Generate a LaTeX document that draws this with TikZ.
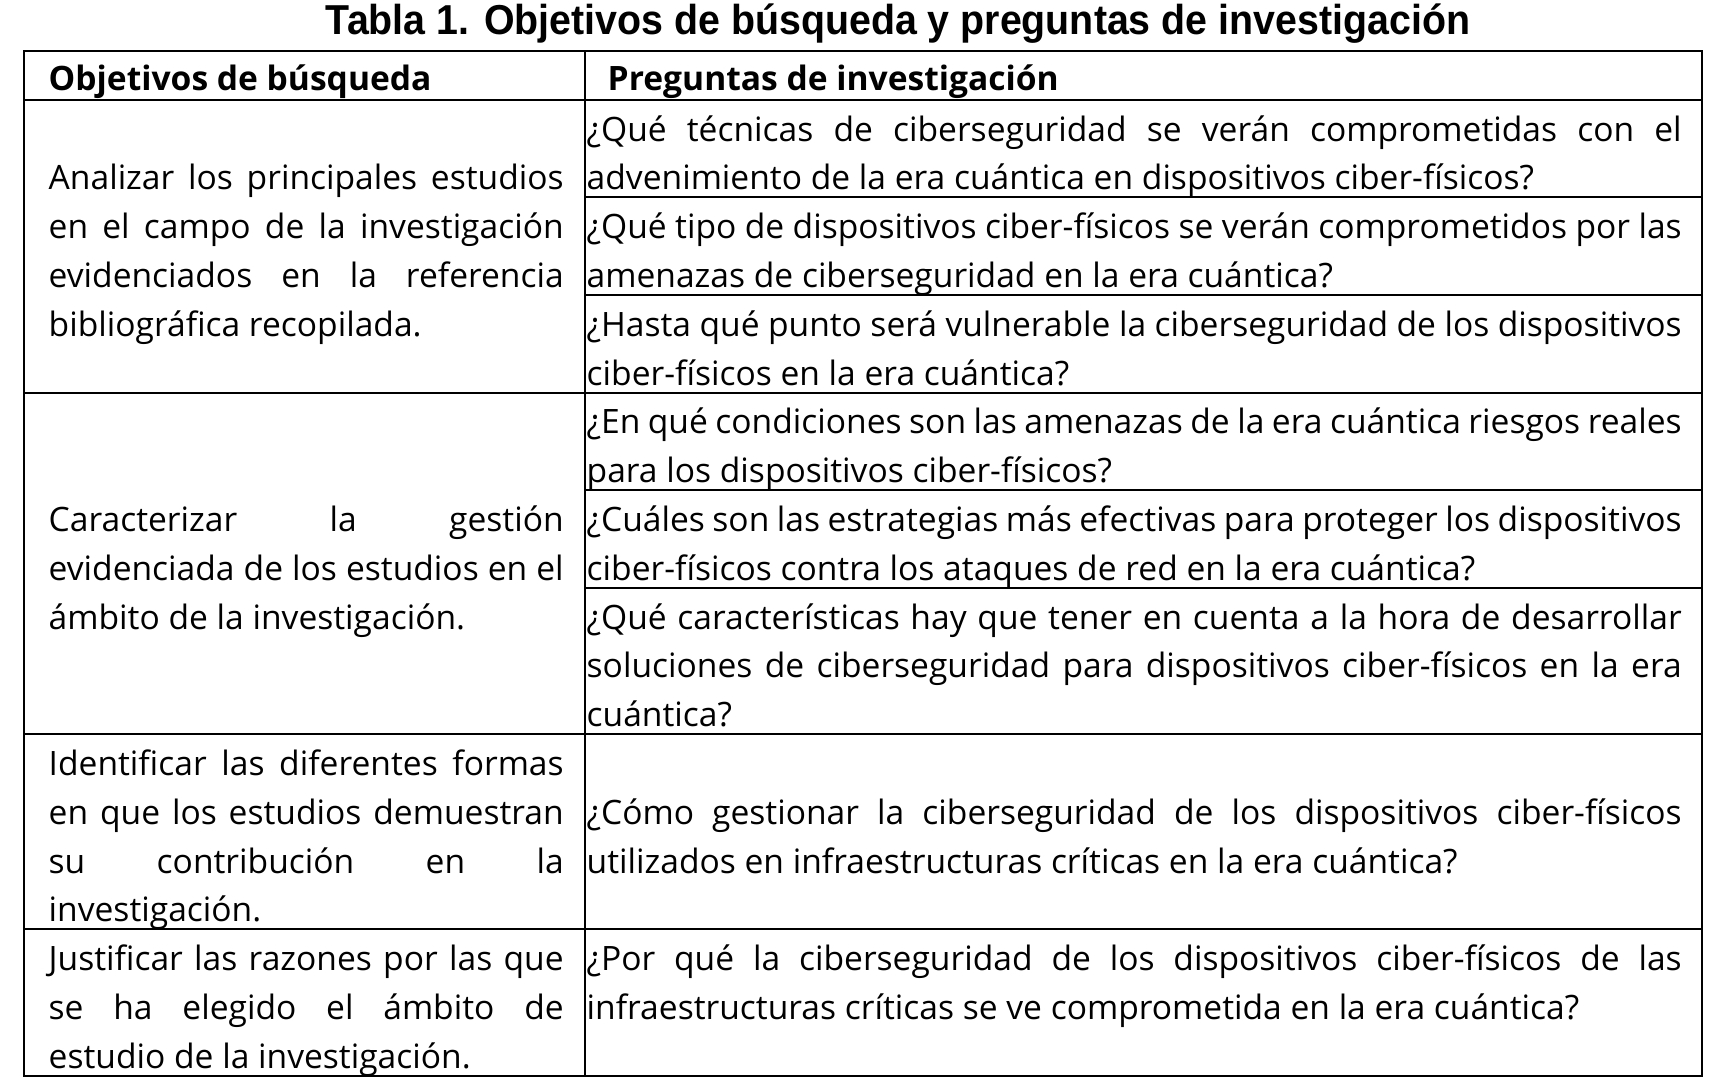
\documentclass[tikz,border=0pt]{standalone}
\usepackage{fontspec}
\usepackage{graphicx}
\setmainfont{Open Sans}
\newfontfamily\titlef{Liberation Sans}
\newlength\px
\setlength\px{0.01cm}
\newcommand\bodyf{\fontsize{9.55pt}{11pt}\selectfont}
\newcommand\headf{\fontsize{9.55pt}{11pt}\selectfont\bfseries}
\newcommand\JL[1]{\makebox[515\px][s]{#1}}
\newcommand\JR[1]{\makebox[1095\px][s]{#1}}
\begin{document}
\begin{tikzpicture}[x=0.01cm,y=-0.01cm,
  ln/.style={anchor=mid west,inner sep=0pt,font=\bodyf,yshift=-0.035cm},
  hd/.style={anchor=mid west,inner sep=0pt,font=\headf,yshift=-0.02cm},
  rule/.style={line width=0.6pt,draw=black}]
\useasboundingbox (0,0) rectangle (1724,1092);
\fill[white] (0,0) rectangle (1724,1092);
% title
\node[inner sep=0pt] (title) at (898,24)
  {\resizebox{1144\px}{\height}{\fontsize{11.9pt}{14pt}\titlef\bfseries Tabla 1. Objetivos de búsqueda y preguntas de investigación}};
% grid
\coordinate (tl) at (24,51);
\coordinate (br) at (1702,1076);
\draw[rule] (tl) rectangle (br);
\draw[rule] (585,51) -- (585,1076);
\foreach \y in {99.8,392.6,734.2,929.4} \draw[rule] (24,\y) -- (1702,\y);
\foreach \y in {197.4,295,490.2,587.8} \draw[rule] (585,\y) -- (1702,\y);
% header
\node[hd] (h1) at (48,79.4) {Objetivos de búsqueda};
\node[hd] (h2) at (607,79.4) {Preguntas de investigación};
% left column
\node[ln] (a1) at (48,177.0) {\JL{Analizar los principales estudios}};
\node[ln] (a2) at (48,225.8) {\JL{en el campo de la investigación}};
\node[ln] (a3) at (48,274.6) {\JL{evidenciados en la referencia}};
\node[ln] (a4) at (48,323.4) {bibliográfica recopilada.};
\node[ln] (b1) at (48,518.6) {\JL{Caracterizar la gestión}};
\node[ln] (b2) at (48,567.4) {\JL{evidenciada de los estudios en el}};
\node[ln] (b3) at (48,616.2) {ámbito de la investigación.};
\node[ln] (c1) at (48,762.6) {\JL{Identificar las diferentes formas}};
\node[ln] (c2) at (48,811.4) {\JL{en que los estudios demuestran}};
\node[ln] (c3) at (48,860.2) {\JL{su contribución en la}};
\node[ln] (c4) at (48,909.0) {investigación.};
\node[ln] (d1) at (48,957.8) {\JL{Justificar las razones por las que}};
\node[ln] (d2) at (48,1006.6) {\JL{se ha elegido el ámbito de}};
\node[ln] (d3) at (48,1055.4) {estudio de la investigación.};
% right column
\node[ln] (r1a) at (586,128.2) {\JR{¿Qué técnicas de ciberseguridad se verán comprometidas con el}};
\node[ln] (r1b) at (586,177.0) {advenimiento de la era cuántica en dispositivos ciber-físicos?};
\node[ln] (r2a) at (586,225.8) {\JR{¿Qué tipo de dispositivos ciber-físicos se verán comprometidos por las}};
\node[ln] (r2b) at (586,274.6) {amenazas de ciberseguridad en la era cuántica?};
\node[ln] (r3a) at (586,323.4) {\JR{¿Hasta qué punto será vulnerable la ciberseguridad de los dispositivos}};
\node[ln] (r3b) at (586,372.2) {ciber-físicos en la era cuántica?};
\node[ln] (r4a) at (586,421.0) {\JR{¿En qué condiciones son las amenazas de la era cuántica riesgos reales}};
\node[ln] (r4b) at (586,469.8) {para los dispositivos ciber-físicos?};
\node[ln] (r5a) at (586,518.6) {\JR{¿Cuáles son las estrategias más efectivas para proteger los dispositivos}};
\node[ln] (r5b) at (586,567.4) {ciber-físicos contra los ataques de red en la era cuántica?};
\node[ln] (r6a) at (586,616.2) {\JR{¿Qué características hay que tener en cuenta a la hora de desarrollar}};
\node[ln] (r6b) at (586,665.0) {\JR{soluciones de ciberseguridad para dispositivos ciber-físicos en la era}};
\node[ln] (r6c) at (586,713.8) {cuántica?};
\node[ln] (r7a) at (586,811.4) {\JR{¿Cómo gestionar la ciberseguridad de los dispositivos ciber-físicos}};
\node[ln] (r7b) at (586,860.2) {utilizados en infraestructuras críticas en la era cuántica?};
\node[ln] (r8a) at (586,957.8) {\JR{¿Por qué la ciberseguridad de los dispositivos ciber-físicos de las}};
\node[ln] (r8b) at (586,1006.6) {infraestructuras críticas se ve comprometida en la era cuántica?};
\end{tikzpicture}
\end{document}
